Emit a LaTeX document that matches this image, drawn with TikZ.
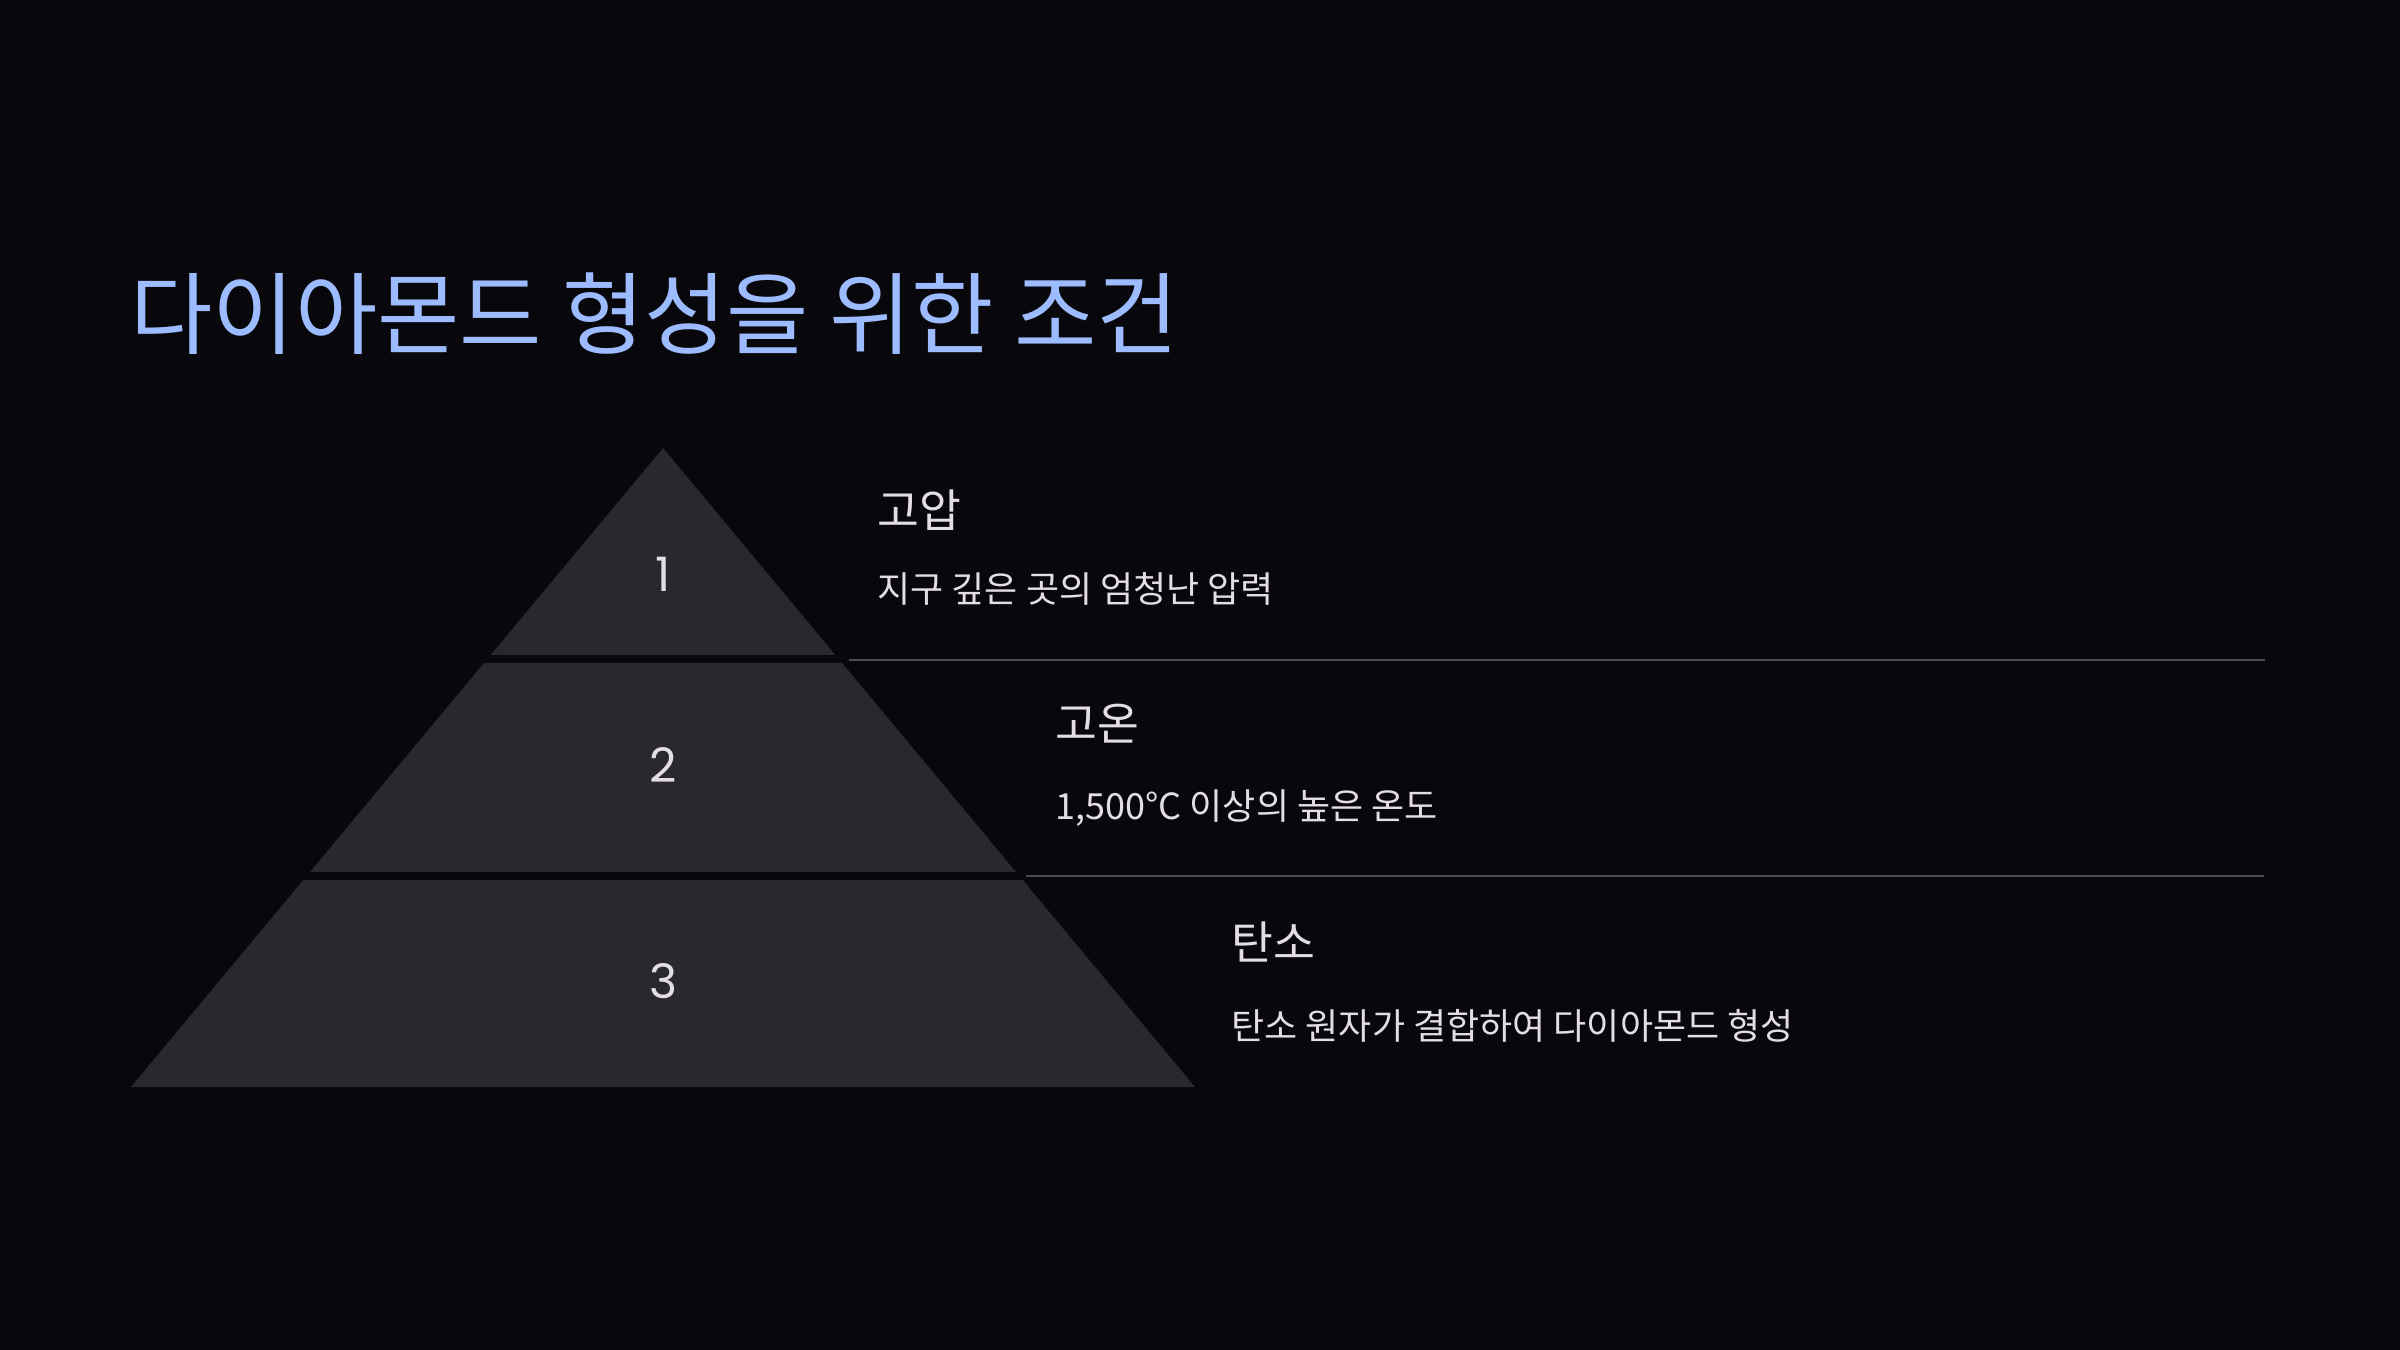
\documentclass[tikz,border=0pt]{standalone}
\usepackage{fontspec}
\newfontfamily\kr{Noto Sans CJK KR}
\newfontfamily\numfont{Poppins}
\definecolor{bgc}{HTML}{08080C}
\definecolor{tierc}{HTML}{28282D}
\definecolor{linec}{HTML}{4A4A52}
\definecolor{txtc}{HTML}{E4DDE4}
\definecolor{titlec}{HTML}{9DBBFF}
\tikzset{
  tier/.style={fill=tierc, draw=none},
  sep/.style={draw=linec, line width=0.8pt},
  heading/.style={anchor=west, inner sep=0pt, text=txtc, font=\kr\fontsize{18.2}{22}\selectfont},
  desc/.style={anchor=west, inner sep=0pt, text=txtc, font=\kr\fontsize{14.4}{18}\selectfont},
  num/.style={inner sep=0pt, text=txtc, font=\numfont\fontsize{19}{22}\selectfont},
  titlest/.style={anchor=west, inner sep=0pt, text=titlec, font=\kr\fontsize{35.8}{42}\selectfont}
}
\begin{document}
\begin{tikzpicture}[x=0.4pt,y=-0.4pt]
\fill[bgc] (0,0) rectangle (2400,1350);
\useasboundingbox (0,0) rectangle (2400,1350);
% title
\node[titlest] (title) at (130,314) {다이아몬드 형성을 위한 조건};
% pyramid tiers (slope 0.8326)
\fill[tier] (663,448) -- (835.3,655) -- (490.7,655) -- cycle;
\fill[tier] (842,663) -- (1016,872) -- (310,872) -- (484,663) -- cycle;
\fill[tier] (1022.7,880) -- (1195,1087) -- (131,1087) -- (303.3,880) -- cycle;
% numbers
\node[num] (n1) at (663,574) {1};
\node[num] (n2) at (663,765) {2};
\node[num] (n3) at (663,981) {3};
% separators
\coordinate (l1a) at (849,660); \coordinate (l1b) at (2265,660);
\coordinate (l2a) at (1026,876); \coordinate (l2b) at (2264,876);
\draw[sep] (l1a) -- (l1b);
\draw[sep] (l2a) -- (l2b);
% texts
\node[heading] (h1) at (877,510) {고압};
\node[desc] (d1) at (877,589) {지구 깊은 곳의 엄청난 압력};
\node[heading] (h2) at (1055,724) {고온};
\node[desc] (d2) at (1055,808) {1,500°C 이상의 높은 온도};
\node[heading] (h3) at (1231,942) {탄소};
\node[desc] (d3) at (1231,1026) {탄소 원자가 결합하여 다이아몬드 형성};
\end{tikzpicture}
\end{document}
